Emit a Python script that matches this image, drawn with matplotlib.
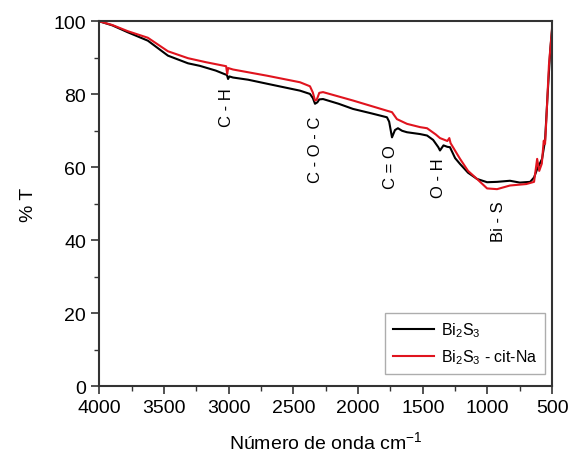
import numpy as np
import matplotlib
matplotlib.use('Agg')
import matplotlib.pyplot as plt
from matplotlib.ticker import MultipleLocator

plt.rcParams['font.family'] = ['Liberation Sans', 'DejaVu Sans']
plt.rcParams['mathtext.fontset'] = 'custom'
plt.rcParams['mathtext.rm'] = 'Liberation Sans'

# Bi2S3 spectrum (wavenumber cm-1, %T)
wn_bi2s3 = [4000, 3900, 3780, 3625, 3470, 3315, 3223, 3100, 3030, 3014, 3005,
            2995, 2967, 2850, 2704, 2449, 2372, 2350, 2333, 2315, 2300, 2271,
            2150, 2040, 1900, 1777, 1760, 1738, 1715, 1692, 1660, 1622, 1521,
            1467, 1420, 1380, 1367, 1340, 1310, 1290, 1250, 1212, 1150, 1081,
            1003, 926, 826, 750, 670, 640, 616, 578, 555, 535, 515, 500]
t_bi2s3 = [100, 98.9, 97.0, 94.7, 90.6, 88.5, 87.8, 86.5, 85.5, 85.3, 84.2,
           84.9, 84.6, 84.0, 82.9, 81.0, 80.1, 79.0, 77.4, 77.8, 78.6, 78.7,
           77.4, 76.0, 74.8, 73.7, 72.5, 68.2, 70.2, 70.7, 70.0, 69.6, 69.1,
           68.7, 67.5, 65.5, 64.6, 66.0, 65.6, 65.5, 62.5, 60.9, 58.5, 56.8,
           55.9, 56.0, 56.3, 55.8, 56.0, 57.2, 59.5, 62.3, 67.3, 80.0, 92.0, 98.0]

# Bi2S3 - cit-Na spectrum
wn_citna = [4000, 3900, 3780, 3625, 3470, 3315, 3176, 3020, 3012, 3004, 2967,
            2704, 2449, 2372, 2350, 2333, 2320, 2300, 2271, 2040, 1777, 1738,
            1700, 1622, 1521, 1467, 1400, 1367, 1310, 1295, 1285, 1212, 1150,
            1081, 1003, 926, 826, 700, 640, 616, 600, 580, 565, 555, 545, 525, 500]
t_citna = [100, 99.0, 97.3, 95.5, 91.8, 89.9, 88.8, 87.7, 85.6, 87.2, 86.8,
           85.1, 83.3, 82.2, 80.5, 78.3, 78.5, 80.4, 80.6, 78.3, 75.5, 75.1,
           73.2, 71.9, 71.0, 70.7, 69.0, 68.0, 67.2, 68.0, 66.6, 62.3, 59.0,
           56.8, 54.2, 54.0, 55.0, 55.4, 56.0, 62.3, 59.0, 61.0, 67.3, 66.4,
           73.0, 88.0, 98.5]

# band assignments: label, wavenumber, %T (text centre)
band_labels = ['C - H', 'C - O - C', 'C = O', 'O - H', 'Bi - S']
band_wn = [3014, 2333, 1752, 1380, 915]
band_t = [76.5, 65.0, 60.4, 57.3, 45.3]

fig = plt.figure(figsize=(5.71, 4.56), dpi=100)
ax = fig.add_axes([0.174, 0.151, 0.793, 0.800])

ax.plot(wn_bi2s3, t_bi2s3, color='black', lw=1.5, label='Bi$_2$S$_3$')
ax.plot(wn_citna, t_citna, color='#e0141e', lw=1.5, label='Bi$_2$S$_3$ - cit-Na')

for lab, x, y in zip(band_labels, band_wn, band_t):
    ax.text(x, y, lab, rotation=90, ha='center', va='center', fontsize=12)

ax.set_xlim(4000, 500)
ax.set_ylim(0, 100)
ax.xaxis.set_major_locator(MultipleLocator(500))
ax.xaxis.set_minor_locator(MultipleLocator(250))
ax.yaxis.set_major_locator(MultipleLocator(20))
ax.yaxis.set_minor_locator(MultipleLocator(10))
ax.tick_params(which='both', direction='out', top=False, right=False,
               labelsize=14, color='#333333')
ax.tick_params(which='major', length=6, width=1.2)
ax.tick_params(which='minor', length=3.5, width=1.0)
for s in ax.spines.values():
    s.set_linewidth(1.5)
    s.set_color('#333333')

ax.set_xlabel('Número de onda cm$^{-1}$', fontsize=14, labelpad=10)
ax.set_ylabel('% T', fontsize=14, labelpad=12)

leg = ax.legend(loc='lower right', fontsize=11.5, fancybox=False,
                edgecolor='#999999', handlelength=2.6, handletextpad=0.4,
                borderaxespad=0.3, borderpad=0.5, bbox_to_anchor=(0.995, 0.02))
leg.get_frame().set_linewidth(1.0)

fig.savefig('out.png', dpi=100)
